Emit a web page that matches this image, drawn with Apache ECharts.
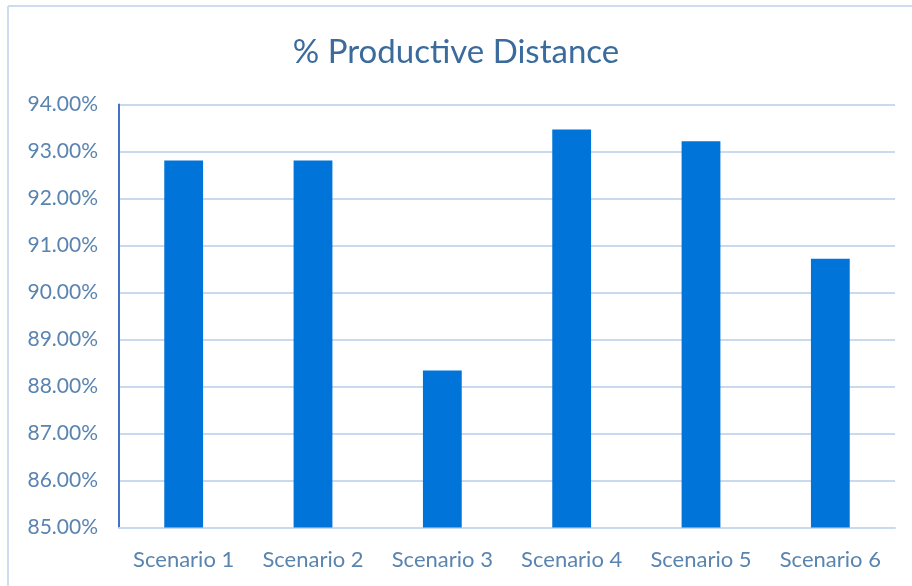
<!DOCTYPE html>
<html>
<head>
<meta charset="utf-8">
<script src="https://cdn.jsdelivr.net/npm/echarts@6/dist/echarts.min.js"></script>
<style>
  html, body { margin: 0; padding: 0; background: #ffffff; }
  #chart { width: 912px; height: 586px; }
</style>
</head>
<body>
<div id="chart"></div>
<script>
// Share of distance that was productive, per scenario (percent)
const categories = ['Scenario 1', 'Scenario 2', 'Scenario 3', 'Scenario 4', 'Scenario 5', 'Scenario 6'];
const productivePct = [92.81, 92.81, 88.34, 93.47, 93.22, 90.72];
const yMin = 85;
const yMax = 94;
const yStep = 1;

const chart = echarts.init(document.getElementById('chart'), null, { renderer: 'canvas' });

const labelFont = 'Lato, "Open Sans", sans-serif';

chart.setOption({
  animation: false,
  backgroundColor: '#ffffff',
  title: {
    text: '% Productive Distance',
    left: 'center',
    top: 31,
    textStyle: {
      fontFamily: labelFont,
      fontWeight: 'normal',
      fontSize: 33,
      color: '#3a6b9c'
    }
  },
  graphic: [
    // frame lines along the top and left edges
    { type: 'line', shape: { x1: 8, y1: 6, x2: 912, y2: 6 }, style: { stroke: '#cddcee', lineWidth: 2 } },
    { type: 'line', shape: { x1: 8, y1: 6, x2: 8, y2: 586 }, style: { stroke: '#cddcee', lineWidth: 2 } }
  ],
  grid: {
    left: 119,
    right: 17,
    top: 104.5,
    bottom: 58.5,
    containLabel: false
  },
  xAxis: {
    type: 'category',
    data: categories,
    axisLine: { show: true, lineStyle: { color: '#c9daef', width: 2 } },
    axisTick: { show: false },
    axisLabel: {
      interval: 0,
      hideOverlap: false,
      margin: 21,
      fontFamily: labelFont,
      fontSize: 22,
      color: '#5a84b0'
    }
  },
  yAxis: {
    type: 'value',
    min: yMin,
    max: yMax,
    interval: yStep,
    axisLine: { show: true, lineStyle: { color: '#4472c4', width: 2 } },
    axisTick: { show: false },
    splitLine: { show: true, lineStyle: { color: '#c9daef', width: 2 } },
    axisLabel: {
      margin: 21,
      fontFamily: labelFont,
      fontSize: 21,
      color: '#5a84b0',
      formatter: v => v.toFixed(2) + '%'
    }
  },
  series: [{
    type: 'bar',
    data: productivePct,
    barWidth: '30%',
    itemStyle: { color: '#0074d9' }
  }]
});
</script>
</body>
</html>
